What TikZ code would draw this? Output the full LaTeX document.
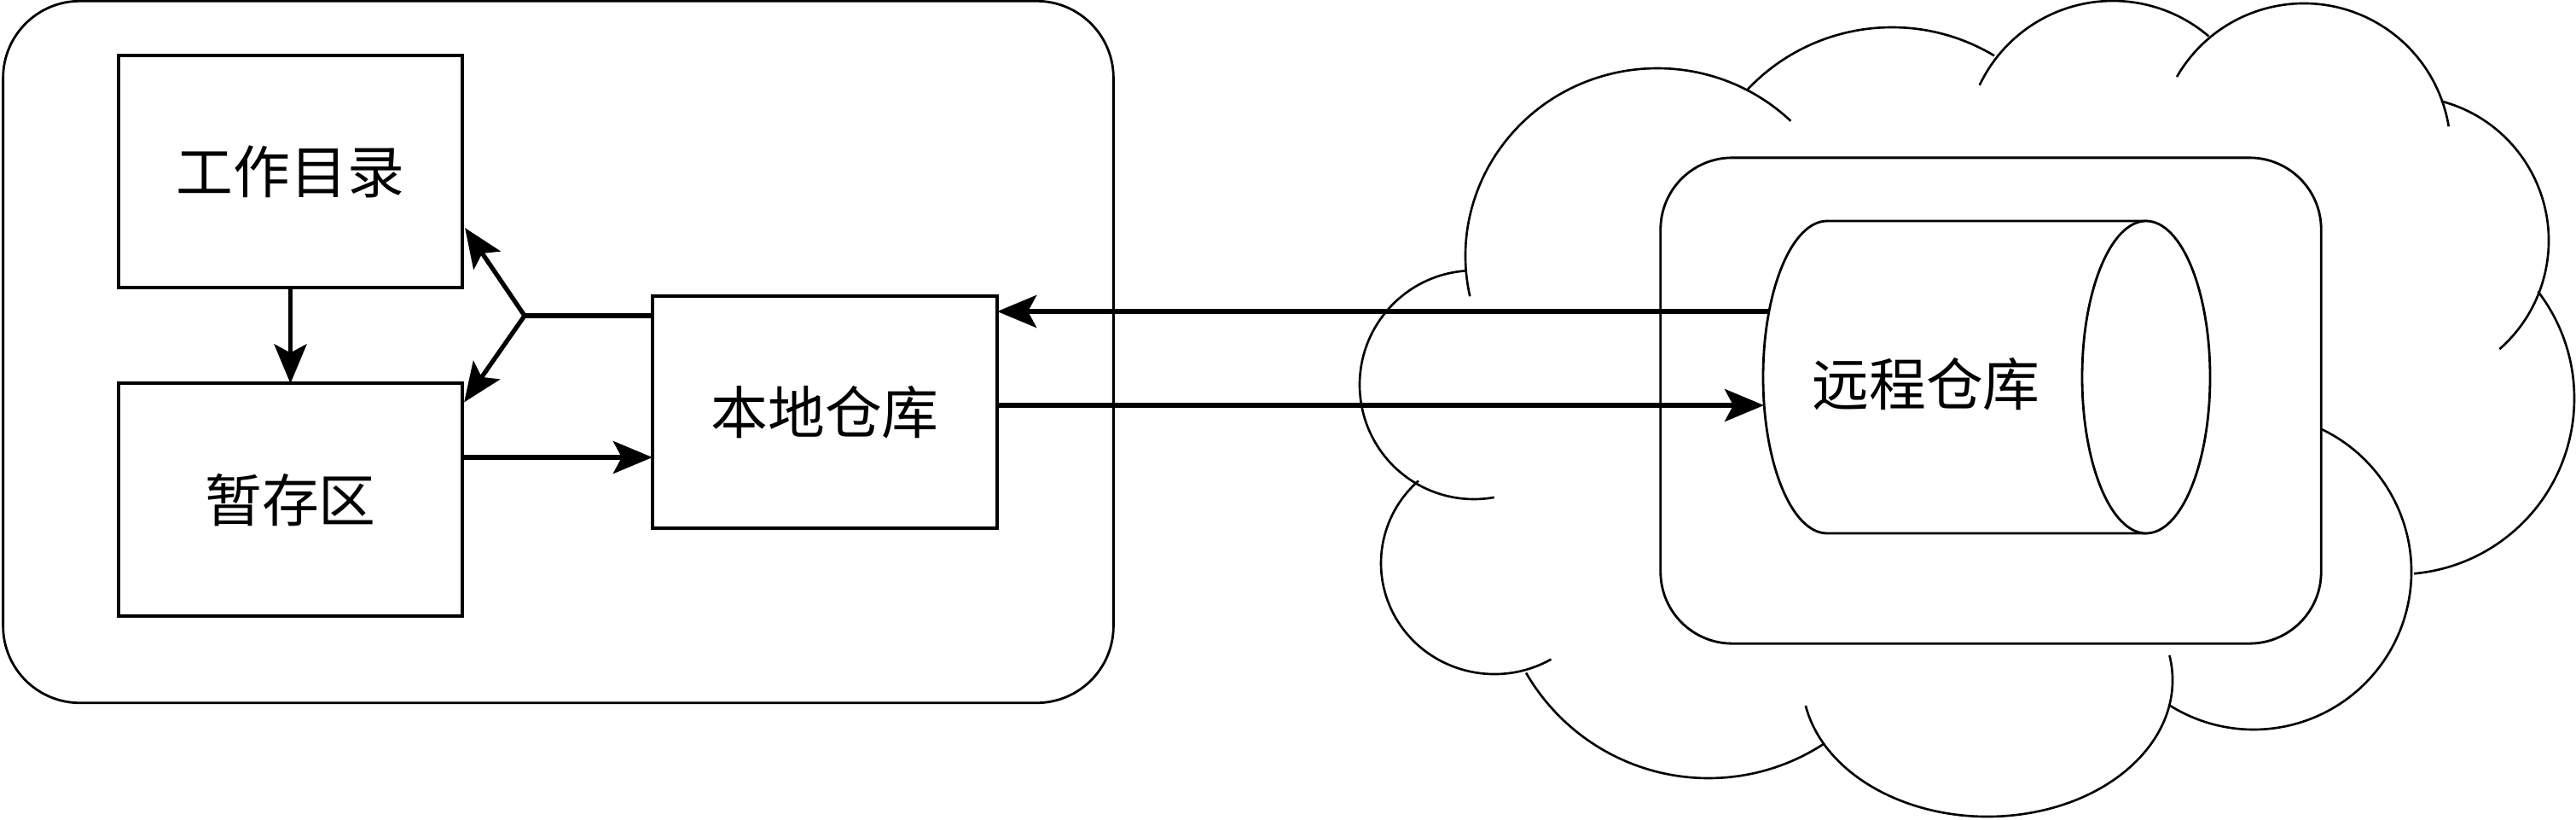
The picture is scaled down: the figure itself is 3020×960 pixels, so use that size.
\documentclass[tikz,border=0pt]{standalone}
\usepackage{fontspec}
\newfontfamily\cjk{Noto Sans CJK SC}
\usetikzlibrary{arrows.meta,calc}
\newcommand\cloudarc[6]{\draw[cloudline] (#1,#2) ++(#5:#3 and #4) arc[start angle=#5,end angle=#6,x radius=#3,y radius=#4];}
\begin{document}
\begin{tikzpicture}[x=0.01cm,y=-0.01cm,
  label/.style={font=\cjk\fontsize{19pt}{23pt}\selectfont},
  box/.style={draw,line width=1.1pt,inner sep=0pt,outer sep=0pt,minimum width=4.03cm,minimum height=2.72cm,label},
  thinline/.style={line width=0.8pt},
  cloudline/.style={line width=0.75pt},
  arr/.style={line width=1.5pt,-{Stealth[length=0.46cm,width=0.38cm,inset=0.1cm]}}
]
\useasboundingbox (0,0) rectangle (3020,960);

% ---- left container ----
\node[draw,thinline,rounded corners=0.9cm,minimum width=13.01cm,minimum height=8.22cm,inner sep=0pt] (localbox) at (654.5,412.5) {};

\node[box] (wd) at (340.5,201) {工作目录};
\node[box] (st) at (340.5,585.5) {暂存区};
\node[box,minimum width=4.04cm] (lr) at (967,483) {本地仓库};

% ---- cloud (separate overlapping arcs) ----
\cloudarc{1943}{300}{225}{220}{167.6}{314}
\cloudarc{2218}{265}{233}{233}{223}{301}
\cloudarc{2477}{174}{173}{173}{205.4}{310.5}
\cloudarc{2701}{176}{172}{172}{210}{350.7}
\cloudarc{2819}{282}{169}{169}{284.7}{408.8}
\cloudarc{2812}{467}{206}{206}{322.5}{445}
\cloudarc{2642}{670}{185}{185}{280}{482}
\cloudarc{2330}{797}{217}{160}{-10.4}{169.2}
\cloudarc{2003}{665}{247}{247}{56.6}{150}
\cloudarc{1752}{660}{133}{130}{60}{228}
\cloudarc{1728}{451}{134}{134}{265.7}{79.8}

% ---- server box ----
\node[draw,thinline,fill=white,rounded corners=0.84cm,minimum width=7.74cm,minimum height=5.69cm,inner sep=0pt] (server) at (2334,469.5) {};

% ---- cylinder ----
\draw[thinline,fill=white] (2516,259) -- (2142,259) arc[start angle=270,end angle=90,x radius=75,y radius=183] -- (2516,625) -- cycle;
\draw[thinline,fill=white] (2516,442) ellipse[x radius=75,y radius=183];
\node[label] (remote) at (2258,450) {远程仓库};

\coordinate (cylA) at (2073,365);
\coordinate (cylB) at (2068,475);
\coordinate (fork) at (615,370);

% ---- connectors ----
\draw[arr] (wd.south) -- (st.north);
\draw[arr] ($(st.east)+(0,-49.5)$) coordinate (a1) -- (a1 -| lr.west);
\draw[line width=1.5pt] (lr.west |- fork) -- (fork);
\draw[arr] (fork) -- ($(wd.south east)+(3,-70)$);
\draw[arr] (fork) -- ($(st.north east)+(2,22)$);
\draw[arr] (cylA) -- (cylA -| lr.east);
\draw[arr] (lr.east |- cylB) -- (cylB);
\end{tikzpicture}
\end{document}
